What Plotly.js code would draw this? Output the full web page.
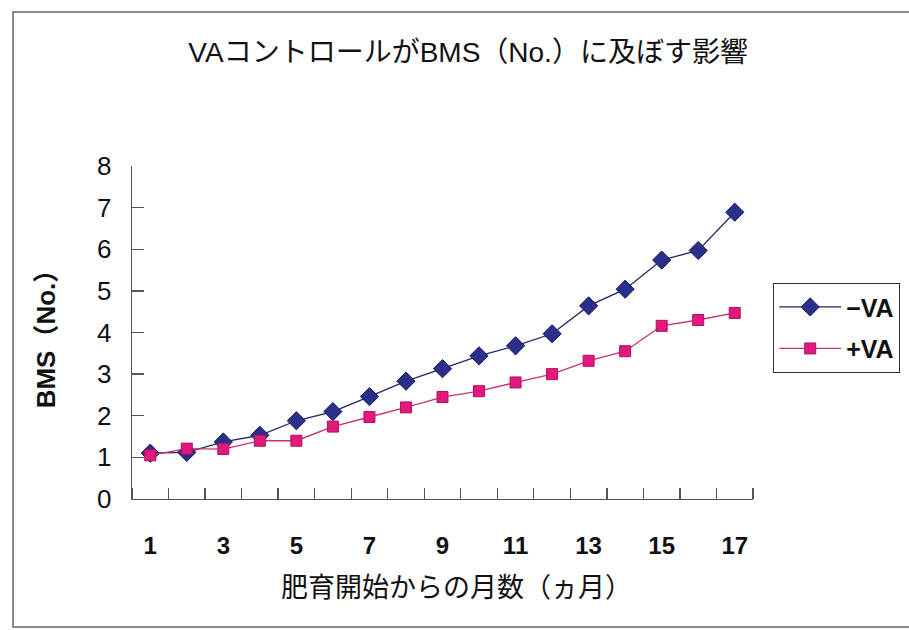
<!DOCTYPE html>
<html>
<head>
<meta charset="utf-8">
<script src="https://cdn.plot.ly/plotly-3.0.1.min.js"></script>
<style>html,body{margin:0;padding:0;background:#fff;}#chart{width:909px;height:630px;}</style>
</head>
<body>
<div id="chart"></div>
<script>
const months = [1,2,3,4,5,6,7,8,9,10,11,12,13,14,15,16,17];
const minusVA = [1.10,1.12,1.37,1.53,1.88,2.10,2.46,2.83,3.13,3.44,3.68,3.97,4.64,5.04,5.74,5.97,6.89];
const plusVA  = [1.05,1.21,1.20,1.40,1.40,1.74,1.97,2.20,2.45,2.59,2.80,3.00,3.32,3.55,4.16,4.30,4.47];
const xTickVals = [1,3,5,7,9,11,13,15,17];
const xTickText = ['1','3','5','7','9','11','13','15','17'];
const yTickVals = [0,1,2,3,4,5,6,7,8];
const seriesNames = ['\u2212VA','+VA'];
const titleText = 'VAコントロールがBMS（No.）に及ぼす影響';
const xTitleText = '肥育開始からの月数（ヵ月）';
const yTitleText = 'BMS（No.）';

const FONT = '"Liberation Sans", Arial, "Noto Sans CJK JP", sans-serif';
const minorVals = [];
for (let i = 0; i <= months.length; i++) minorVals.push(months[0] - 0.5 + i);

const traces = [
  {x: months, y: minusVA, name: seriesNames[0], legendgroup: 'a', type: 'scatter', mode: 'lines+markers',
   line: {color: '#23256e', width: 1.3},
   marker: {symbol: 'diamond', size: 14, color: '#2a2f8c', line: {color: '#1a1c60', width: 1}}},
  {x: months, y: plusVA, name: seriesNames[1], legendgroup: 'b', type: 'scatter', mode: 'lines+markers',
   line: {color: '#c8306e', width: 1.3},
   marker: {symbol: 'square', size: 11, color: '#e2187c', line: {color: '#b0105c', width: 1}}}
];

const layout = {
  width: 909, height: 630,
  margin: {l: 132, r: 156, t: 166, b: 131, autoexpand: false},
  paper_bgcolor: '#ffffff', plot_bgcolor: '#ffffff',
  font: {family: FONT, color: '#111'},
  title: {text: titleText, font: {family: FONT, size: 28, color: '#111'},
          x: 0.515, xref: 'container', xanchor: 'center', y: 1 - 52/630, yref: 'container', yanchor: 'middle'},
  xaxis: {
    range: [0.5, 17.5], showgrid: false, zeroline: false,
    showline: true, linecolor: '#555', linewidth: 1.3,
    tickmode: 'array', tickvals: xTickVals, ticktext: xTickText, ticks: '',
    tickfont: {family: FONT, size: 24, color: '#111', weight: 'bold'},
    ticklabelstandoff: 25,
    minor: {tickmode: 'array', tickvals: minorVals, ticks: 'inside', ticklen: 11, tickcolor: '#555', tickwidth: 1.3}
  },
  yaxis: {
    range: [0, 8], showgrid: false, zeroline: false,
    showline: true, linecolor: '#555', linewidth: 1.3,
    tickmode: 'array', tickvals: yTickVals, ticks: 'inside', ticklen: 12, tickcolor: '#555', tickwidth: 1.3,
    tickfont: {family: FONT, size: 26, color: '#111'},
    ticklabelstandoff: 14,
    title: {text: yTitleText, font: {family: FONT, size: 26, color: '#111', weight: 'bold'}, standoff: 34}
  },
  annotations: [
    {text: xTitleText, xref: 'paper', yref: 'paper', x: (456-132)/621, y: (499-588)/333,
     xanchor: 'center', yanchor: 'middle', showarrow: false,
     font: {family: FONT, size: 27, color: '#111'}}
  ],
  showlegend: true,
  legend: {x: (773-132)/621, xanchor: 'left', y: (499-283)/333, yanchor: 'top',
           bordercolor: '#333', borderwidth: 1.2, bgcolor: '#fff', itemwidth: 62,
           font: {family: FONT, size: 25, color: '#111', weight: 'bold'}, tracegroupgap: 6},
  shapes: [
    {type: 'rect', xref: 'paper', yref: 'paper', x0: (13-132)/621, x1: (916-132)/621,
     y0: (499-627)/333, y1: (499-12)/333, line: {color: '#666', width: 1.5}, fillcolor: 'rgba(0,0,0,0)'}
  ]
};

Plotly.newPlot('chart', traces, layout, {displayModeBar: false, staticPlot: true});
</script>
</body>
</html>
